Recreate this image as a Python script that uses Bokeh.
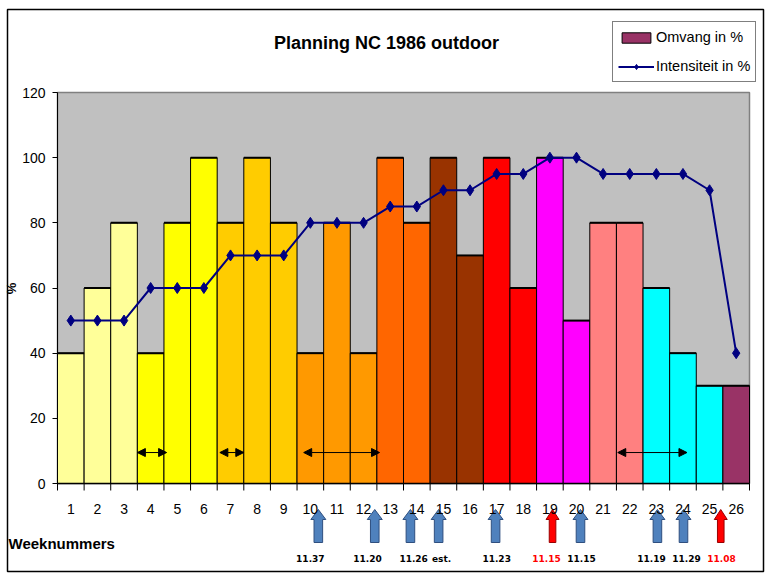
from bokeh.plotting import figure
from bokeh.models import (Range1d, LinearAxis, FixedTicker, Legend, LegendItem,
                          Arrow, NormalHead, ColumnDataSource)
from bokeh.core.properties import value
from bokeh.embed import file_html
from bokeh.resources import INLINE

# ---------------- data ----------------
weeks = list(range(1, 27))
omvang = [40, 60, 80, 40, 80, 100, 80, 100, 80, 40, 80, 40, 100,
          80, 100, 70, 100, 60, 100, 50, 80, 80, 60, 40, 30, 30]
intensiteit = [50, 50, 50, 60, 60, 60, 70, 70, 70, 80, 80, 80, 85,
               85, 90, 90, 95, 95, 100, 100, 95, 95, 95, 95, 90, 40]
bar_colors = (["#FFFF99"] * 3 + ["#FFFF00"] * 3 + ["#FFCC00"] * 3 +
              ["#FF9900"] * 3 + ["#FF6600"] * 2 + ["#993300"] * 2 +
              ["#FF0000"] * 2 + ["#FF00FF"] * 2 + ["#FF8080"] * 2 +
              ["#00FFFF"] * 3 + ["#993366"])
y_ticks = [0, 20, 40, 60, 80, 100, 120]

# period double-arrows (in weeks)
span_start = [3.5, 6.6, 9.75, 21.55]
span_end = [4.6, 7.5, 12.6, 24.15]
span_level = 9.5

# race markers below the axis
race_x = [10.3, 12.42, 13.76, 14.82, 16.96, 19.1, 20.15, 23.04, 24.02, 25.42]
race_red = [False, False, False, False, False, True, False, False, False, True]
race_text = ["11.37", "11.20", "11.26", "est.", "11.23",
             "11.15", "11.15", "11.19", "11.29", "11.08"]
race_text_x = [10.0, 12.15, 13.88, 14.93, 17.0, 18.87, 20.19, 22.82, 24.13, 25.45]

# ---------------- layout ----------------
W, H = 772, 576
PXX = 692 / 26.0      # pixels per week
PXY = 391 / 120.0     # pixels per percent
x_lo = weeks[0] - 0.5
x_hi = weeks[-1] + 0.5
y_top = y_ticks[-1]
xr = Range1d(x_lo - 57 / PXX, x_hi + 23 / PXX)
yr = Range1d(-93 / PXY, y_top + 92 / PXY)

FONT = "Liberation Sans"

p = figure(width=W, height=H, x_range=xr, y_range=yr,
           output_backend="svg", toolbar_location=None,
           x_axis_location=None, y_axis_location=None, min_border=0,
           background_fill_color="white", border_fill_color="white",
           outline_line_color=None)
p.xgrid.visible = False
p.ygrid.visible = False

# chart border
p.quad(left=[x_lo - 50 / PXX], right=[x_hi + 14 / PXX],
       bottom=[-88 / PXY], top=[y_top + 83 / PXY],
       fill_color=None, line_color="black", line_width=1.5)

# plot area
p.quad(left=[x_lo], right=[x_hi], bottom=[0], top=[y_top],
       fill_color="#C0C0C0", line_color="#808080", line_width=1.5)

# bars
src = ColumnDataSource(dict(x=weeks, top=omvang, color=bar_colors))
bars = p.vbar(x="x", top="top", width=1.0, source=src, fill_color="color",
              line_color="black", line_width=1)
# slightly heavier top edges, like the original
p.segment(x0=[w - 0.5 for w in weeks], y0=omvang, x1=[w + 0.5 for w in weeks],
          y1=omvang, line_color="black", line_width=2)

# axis lines and category tick marks
p.segment(x0=[x_lo], y0=[0], x1=[x_hi], y1=[0], line_color="black", line_width=1.5)
p.segment(x0=[x_lo], y0=[0], x1=[x_lo], y1=[y_top], line_color="black", line_width=1)
bounds = [w - 0.5 for w in weeks] + [weeks[-1] + 0.5]
p.segment(x0=bounds, y0=[0] * len(bounds), x1=bounds, y1=[-7 / PXY] * len(bounds),
          line_color="black", line_width=1)

yax = LinearAxis(fixed_location=x_lo, ticker=FixedTicker(ticks=y_ticks),
                 axis_line_color=None, major_tick_in=0, major_tick_out=5,
                 minor_tick_in=0, minor_tick_out=0, major_tick_line_color="black",
                 major_label_standoff=7, major_label_text_font=FONT,
                 major_label_text_font_size="14px", major_label_text_color="black",
                 axis_label="%", axis_label_text_font=FONT,
                 axis_label_text_font_size="13px", axis_label_text_font_style="bold",
                 axis_label_text_color="black", axis_label_standoff=0)
p.add_layout(yax, "left")

xax = LinearAxis(fixed_location=0, ticker=FixedTicker(ticks=weeks),
                 axis_line_color=None, major_tick_in=0, major_tick_out=0,
                 minor_tick_in=0, minor_tick_out=0,
                 major_label_standoff=20, major_label_text_font=FONT,
                 major_label_text_font_size="14px", major_label_text_color="black")
p.add_layout(xax, "below")

# intensity line
line_r = p.line(weeks, intensiteit, line_color="#000080", line_width=2)
pts = p.scatter(weeks, intensiteit, marker="diamond", size=11,
                fill_color="#000080", line_color="#000080")

# period double arrows
for s, e in zip(span_start, span_end):
    p.add_layout(Arrow(x_start=s, y_start=span_level, x_end=e, y_end=span_level,
                       line_color="black", line_width=1,
                       start=NormalHead(size=8, fill_color="black", line_color="black"),
                       end=NormalHead(size=8, fill_color="black", line_color="black")))

# block arrows below the axis
tip, base, bottom = -26 / PXY, -36 / PXY, -59 / PXY
xs, ys, fills, lines = [], [], [], []
for cx, red in zip(race_x, race_red):
    hw = (6.5 if red else 7.5) / PXX
    sw = (3.3 if red else 4.3) / PXX
    xs.append([cx, cx + hw, cx + sw, cx + sw, cx - sw, cx - sw, cx - hw])
    ys.append([tip, base, base, bottom, bottom, base, base])
    fills.append("#FF0000" if red else "#4F81BD")
    lines.append("#990000" if red else "#2F4F7F")
p.patches(xs, ys, fill_color=fills, line_color=lines, line_width=1)

p.text(x=race_text_x, y=[-75 / PXY] * len(race_text_x), text=race_text,
       text_align="center", text_baseline="middle",
       text_font=value("DejaVu Sans"), text_font_size="9px", text_font_style="bold",
       text_color=["#FF0000" if r else "black" for r in race_red])

# title and axis title
p.text(x=[x_lo + 329 / PXX], y=[y_top + 50 / PXY], text=["Planning NC 1986 outdoor"],
       text_align="center", text_baseline="middle", text_font=value(FONT),
       text_font_size="18px", text_font_style="bold", text_color="black")
p.text(x=[x_lo - 49 / PXX], y=[-60 / PXY], text=["Weeknummers"],
       text_align="left", text_baseline="middle", text_font=value(FONT),
       text_font_size="15px", text_font_style="bold", text_color="black")

legend = Legend(items=[LegendItem(label="Omvang in %", renderers=[bars], index=25),
                       LegendItem(label="Intensiteit in %", renderers=[line_r, pts])],
                location=(612, 494), orientation="vertical", margin=0,
                border_line_color="black", border_line_width=1,
                background_fill_color="white", background_fill_alpha=1.0,
                padding=5, spacing=9, label_height=20, glyph_height=13,
                glyph_width=36, label_standoff=2,
                label_text_font=FONT, label_text_font_size="14.5px",
                label_text_color="black")
p.add_layout(legend)

open("out.html", "w").write(file_html(p, INLINE))
